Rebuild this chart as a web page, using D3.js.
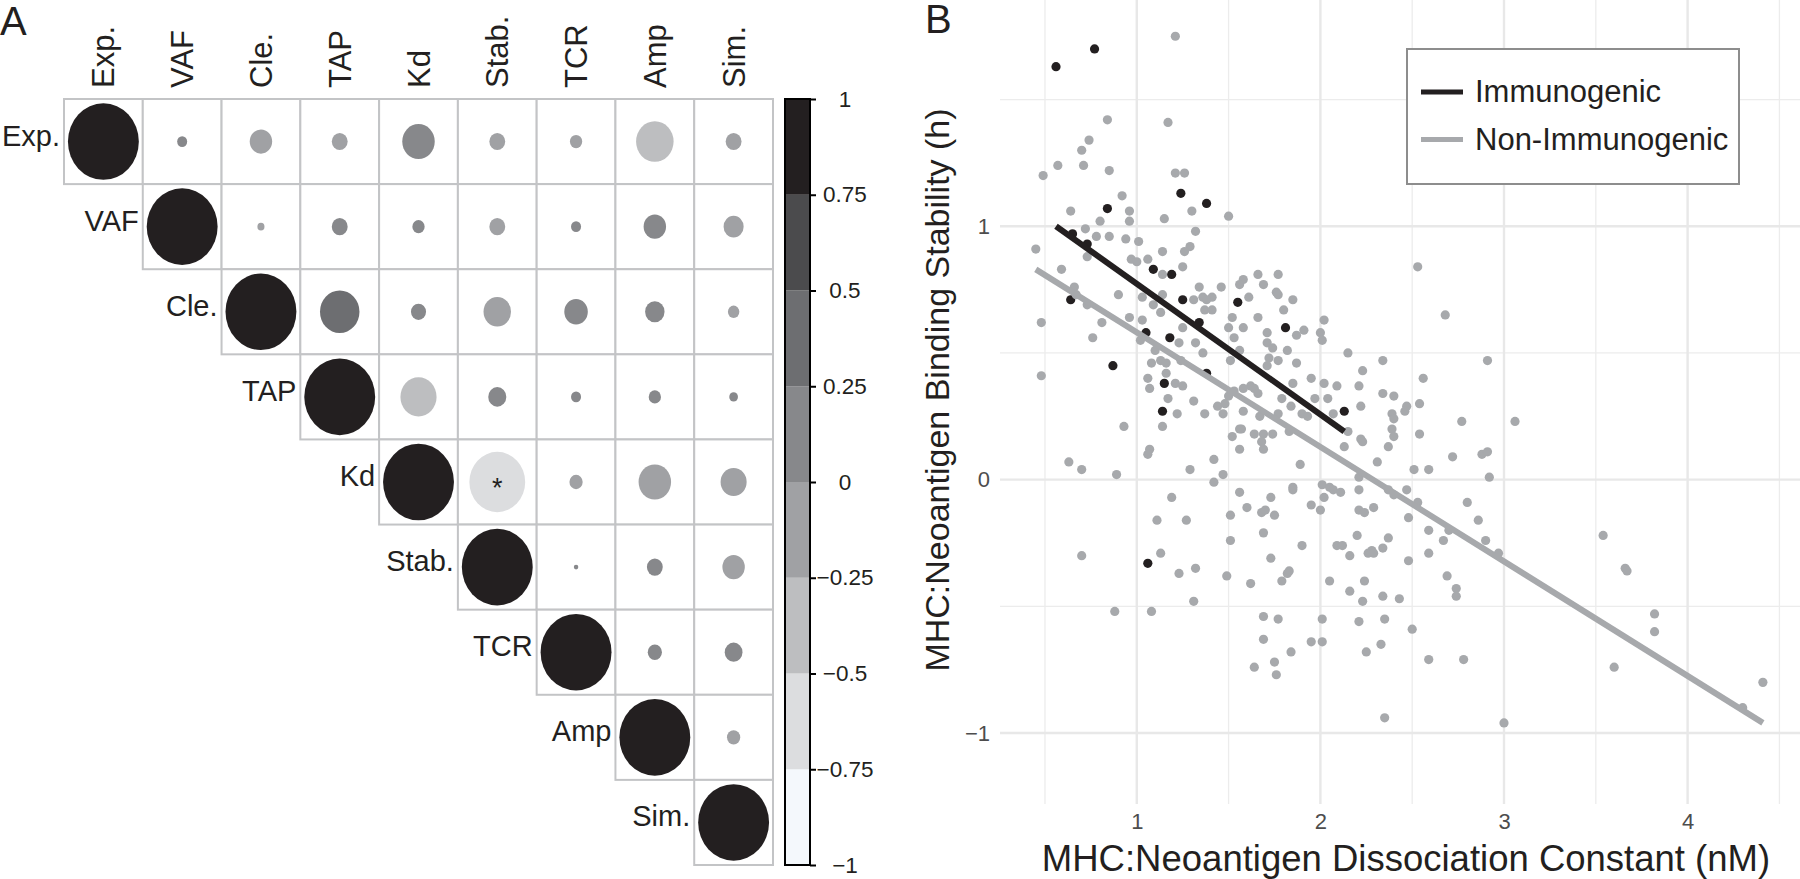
<!DOCTYPE html>
<html>
<head>
<meta charset="utf-8">
<title>Correlation matrix and MHC binding stability</title>
<script src="https://cdn.jsdelivr.net/npm/d3@7"></script>
<style>
  body { margin: 0; background: #fff; }
  svg { display: block; font-family: "Liberation Sans", Arial, Helvetica, sans-serif; }
</style>
</head>
<body>
<svg id="chart" width="1800" height="879"></svg>
<script>
// ---------- panel A data: feature correlations (upper triangle) ----------
const corrLabels = ["Exp.", "VAF", "Cle.", "TAP", "Kd", "Stab.", "TCR", "Amp", "Sim."]
const corrValues = [
  [1, 0.02, -0.10, -0.05, 0.21, -0.05, -0.03, -0.28, -0.05],
  [null, 1, -0.01, 0.05, 0.03, -0.05, 0.02, 0.10, -0.08],
  [null, null, 1, 0.31, 0.045, -0.15, 0.11, 0.075, -0.026],
  [null, null, null, 1, -0.26, 0.065, 0.02, 0.03, 0.015],
  [null, null, null, null, 1, -0.62, -0.035, -0.21, -0.135],
  [null, null, null, null, null, 1, 0.004, 0.05, -0.10],
  [null, null, null, null, null, null, 1, 0.04, 0.063],
  [null, null, null, null, null, null, null, 1, -0.035],
  [null, null, null, null, null, null, null, null, 1]
]
const starCells = [[4, 5]]   // significant pair (row, col)
const bandBreaks = [-1, -0.75, -0.5, -0.25, 0, 0.25, 0.5, 0.75, 1]
const bandColors = ["#f4f8fc", "#dcdddf", "#bdbec0", "#a0a1a4", "#87888b", "#6d6e71", "#4b4b4d", "#231f20"]

// ---------- panel B data: Kd (nM) vs stability (h) ----------
const immunogenic = [
  [0.56, 1.63], [0.77, 1.70], [0.84, 1.07], [1.24, 1.13], [1.38, 1.09], [0.65, 0.97], [0.73, 0.93],
  [0.64, 0.71], [1.09, 0.83], [1.19, 0.81], [1.25, 0.71], [1.34, 0.62], [1.55, 0.70], [1.81, 0.60],
  [1.05, 0.58], [1.18, 0.56], [0.87, 0.45], [1.15, 0.38], [1.14, 0.27], [2.13, 0.27], [1.38, 0.42],
  [1.06, -0.33]
]
const nonImmunogenic = [
  [1.21, 1.75], [1.17, 1.41], [0.84, 1.42], [0.74, 1.34], [0.70, 1.30], [0.71, 1.24], [0.57, 1.24],
  [0.49, 1.20], [0.85, 1.22], [1.21, 1.21], [1.26, 1.21], [0.92, 1.12], [1.30, 1.06], [0.64, 1.06],
  [0.96, 1.06], [0.80, 1.02], [0.96, 1.02], [1.15, 1.03], [1.50, 1.04], [0.72, 0.99], [1.32, 0.98],
  [0.78, 0.96], [0.85, 0.96], [0.94, 0.95], [1.01, 0.94], [0.45, 0.91], [1.29, 0.92], [1.26, 0.90],
  [0.73, 0.88], [1.06, 0.87], [0.97, 0.87], [1.00, 0.86], [1.14, 0.90], [1.25, 0.84], [0.59, 0.83],
  [1.14, 0.81], [1.66, 0.81], [1.77, 0.81], [1.58, 0.79], [1.56, 0.77], [1.69, 0.77], [0.66, 0.76],
  [0.67, 0.73], [1.34, 0.76], [1.46, 0.76], [0.90, 0.73], [1.14, 0.73], [1.03, 0.72], [1.31, 0.71],
  [1.36, 0.72], [1.41, 0.72], [1.38, 0.71], [1.61, 0.72], [1.76, 0.74], [1.77, 0.73], [1.85, 0.71],
  [0.73, 0.69], [1.09, 0.69], [1.13, 0.66], [1.37, 0.67], [1.41, 0.67], [1.80, 0.67], [1.52, 0.64],
  [1.66, 0.64], [0.48, 0.62], [0.81, 0.62], [0.96, 0.64], [1.03, 0.63], [2.02, 0.63], [1.25, 0.60],
  [1.50, 0.60], [1.58, 0.60], [1.91, 0.59], [2.00, 0.58], [1.71, 0.58], [0.76, 0.56], [1.02, 0.55],
  [1.23, 0.54], [1.32, 0.54], [1.53, 0.56], [2.01, 0.55], [1.87, 0.57], [1.71, 0.54], [2.15, 0.50],
  [2.34, 0.47], [1.36, 0.50], [1.56, 0.51], [1.74, 0.52], [1.72, 0.48], [1.77, 0.47], [1.87, 0.46],
  [1.82, 0.51], [1.10, 0.51], [1.24, 0.47], [1.08, 0.46], [1.13, 0.47], [1.16, 0.46], [1.51, 0.47],
  [0.48, 0.41], [1.06, 0.40], [1.16, 0.42], [1.71, 0.45], [2.23, 0.43], [1.95, 0.40], [2.02, 0.38],
  [2.09, 0.37], [2.21, 0.37], [1.85, 0.38], [1.62, 0.37], [1.64, 0.36], [1.58, 0.36], [1.07, 0.36],
  [1.21, 0.38], [1.25, 0.37], [1.53, 0.35], [1.66, 0.34], [2.34, 0.34], [2.40, 0.33], [1.50, 0.33],
  [1.17, 0.32], [1.31, 0.31], [1.79, 0.32], [2.04, 0.32], [1.97, 0.32], [1.44, 0.29], [1.48, 0.30],
  [2.22, 0.29], [1.84, 0.29], [1.58, 0.27], [1.77, 0.26], [1.90, 0.26], [1.93, 0.25], [2.07, 0.26],
  [1.22, 0.26], [1.37, 0.26], [1.47, 0.26], [1.67, 0.25], [2.39, 0.26], [2.40, 0.24], [0.93, 0.21],
  [1.14, 0.21], [1.52, 0.17], [1.56, 0.20], [1.57, 0.20], [1.64, 0.18], [1.69, 0.18], [1.74, 0.18],
  [1.83, 0.19], [2.15, 0.19], [2.22, 0.16], [2.39, 0.20], [2.40, 0.17],
  [2.53, 0.84], [2.68, 0.65], [2.91, 0.47], [2.56, 0.40], [2.54, 0.30], [2.47, 0.29], [2.46, 0.27],
  [2.77, 0.23], [3.06, 0.23], [2.54, 0.18],
  [0.63, 0.07], [0.70, 0.04], [0.89, 0.02], [1.07, 0.12], [1.06, 0.10], [1.29, 0.04], [1.42, 0.08],
  [1.47, 0.02], [1.42, -0.01], [1.56, 0.12], [1.69, 0.12], [1.68, 0.15], [1.89, 0.06], [2.13, 0.13],
  [2.23, 0.15], [2.31, 0.07], [2.37, 0.13], [2.21, 0.01], [2.01, -0.02], [1.85, -0.03], [1.85, -0.04],
  [2.05, -0.03], [2.07, -0.04], [2.11, -0.05], [2.21, -0.04], [2.37, -0.04], [2.40, -0.06], [2.02, -0.07],
  [1.19, -0.07], [1.56, -0.05], [1.73, -0.07], [1.95, -0.10], [2.00, -0.12], [2.21, -0.12], [2.24, -0.13],
  [2.29, -0.11], [1.60, -0.11], [1.68, -0.13], [1.70, -0.12], [1.75, -0.14], [1.51, -0.14], [1.11, -0.16],
  [1.27, -0.16], [1.69, -0.21], [1.51, -0.24], [1.90, -0.26], [2.20, -0.22], [2.09, -0.26], [2.12, -0.26],
  [2.16, -0.30], [2.26, -0.29], [2.28, -0.28], [2.29, -0.29], [2.34, -0.27], [2.37, -0.23], [0.70, -0.30],
  [1.13, -0.29], [1.32, -0.35], [1.23, -0.37], [1.73, -0.31], [1.49, -0.38], [1.62, -0.41], [1.82, -0.37],
  [1.83, -0.36], [1.79, -0.40], [2.05, -0.40], [2.24, -0.40], [2.16, -0.44], [2.23, -0.48], [2.34, -0.46],
  [2.43, -0.47], [1.31, -0.48], [0.88, -0.52], [1.08, -0.52], [1.69, -0.54], [1.77, -0.55], [2.01, -0.55],
  [2.21, -0.56], [2.35, -0.55], [1.69, -0.63], [1.95, -0.64], [2.01, -0.64], [1.84, -0.68], [2.25, -0.68],
  [2.33, -0.65], [1.64, -0.74], [1.75, -0.72], [1.76, -0.77], [2.35, -0.94],
  [2.72, 0.09], [2.88, 0.10], [2.91, 0.11], [2.51, 0.04], [2.59, 0.04], [2.92, 0.01], [2.47, -0.04],
  [2.53, -0.09], [2.80, -0.09], [2.48, -0.15], [2.86, -0.16], [2.59, -0.20], [2.70, -0.20], [2.67, -0.24],
  [2.90, -0.24], [2.97, -0.29], [2.59, -0.29], [2.48, -0.32], [2.69, -0.38], [2.74, -0.43], [2.74, -0.46],
  [3.54, -0.22], [3.66, -0.35], [3.67, -0.36], [3.82, -0.53], [3.82, -0.60], [2.50, -0.59], [2.59, -0.71],
  [2.78, -0.71], [3.60, -0.74], [4.41, -0.80], [4.30, -0.90], [3.00, -0.96]
]
// fitted lines, end points
const immunoFit = [[0.56, 1.00], [2.13, 0.19]]
const nonImmunoFit = [[0.45, 0.83], [4.41, -0.96]]
const xTicksB = [1, 2, 3, 4]
const xMinorB = [0.5, 1.5, 2.5, 3.5, 4.5]
const yTicksB = [-1, 0, 1]
const yMinorB = [-0.5, 0.5, 1.5]
const seriesNames = ["Immunogenic", "Non-Immunogenic"]
const seriesColors = ["#231f20", "#a7a9ac"]

const ink = "#231f20"
const svg = d3.select("#chart")
svg.append("rect").attr("width", 1800).attr("height", 879).attr("fill", "#fff")

// =============== Panel A ===============
const n = corrLabels.length
const xA = d3.scaleBand().domain(d3.range(n)).range([64, 773])
const yA = d3.scaleBand().domain(d3.range(n)).range([99, 865])
const rA = d3.scaleSqrt().domain([0, 1]).range([0, 0.45])
const colorA = d3.scaleQuantize().domain([-1, 1]).range(bandColors)
const bw = xA.bandwidth(), bh = yA.bandwidth()

var cells = []
corrValues.forEach(function (row, i) {
  row.forEach(function (v, j) { if (v !== null) cells.push({ i: i, j: j, v: v }) })
})

const gA = svg.append("g")
gA.selectAll("rect.cell").data(cells).join("rect")
  .attr("class", "cell")
  .attr("x", d => xA(d.j)).attr("y", d => yA(d.i))
  .attr("width", bw).attr("height", bh)
  .attr("fill", "#fff").attr("stroke", "#c3c4c6").attr("stroke-width", 2)

gA.selectAll("ellipse").data(cells).join("ellipse")
  .attr("cx", d => xA(d.j) + bw / 2)
  .attr("cy", d => yA(d.i) + bh / 2)
  .attr("rx", d => rA(Math.abs(d.v)) * bw)
  .attr("ry", d => rA(Math.abs(d.v)) * bh)
  .attr("fill", d => colorA(d.v))

gA.selectAll("text.star").data(starCells).join("text")
  .attr("class", "star")
  .attr("x", d => xA(d[1]) + bw / 2)
  .attr("y", d => yA(d[0]) + bh / 2 + 15)
  .attr("text-anchor", "middle").attr("font-size", 27).attr("fill", ink)
  .text("*")

// column labels (rotated)
gA.selectAll("text.col").data(corrLabels).join("text")
  .attr("class", "col")
  .attr("transform", (d, j) => `translate(${xA(j) + bw / 2 + 11},88) rotate(-90)`)
  .attr("font-size", 31).attr("fill", ink)
  .text(d => d)

// row labels next to the diagonal
gA.selectAll("text.row").data(corrLabels).join("text")
  .attr("class", "row")
  .attr("x", (d, i) => xA(i) - 4)
  .attr("y", (d, i) => yA(i) + bh / 2 + 4)
  .attr("text-anchor", "end").attr("font-size", 29).attr("fill", ink)
  .text(d => d)

// colour legend
const yBar = d3.scaleLinear().domain([-1, 1]).range([865, 99])
gA.selectAll("rect.band").data(d3.range(bandColors.length)).join("rect")
  .attr("class", "band")
  .attr("x", 785).attr("width", 25)
  .attr("y", k => yBar(bandBreaks[k + 1]))
  .attr("height", k => yBar(bandBreaks[k]) - yBar(bandBreaks[k + 1]))
  .attr("fill", k => bandColors[k])
gA.append("rect").attr("x", 785).attr("y", 99).attr("width", 25).attr("height", 766)
  .attr("fill", "none").attr("stroke", "#000").attr("stroke-width", 2)

const barAxis = gA.append("g").attr("transform", "translate(810,0)")
  .call(d3.axisRight(yBar).tickValues(bandBreaks).tickSize(6)
    .tickFormat(d => (d < 0 ? "\u2212" : "") + Math.abs(d)))
barAxis.select(".domain").remove()
barAxis.selectAll("line").attr("stroke", "#000").attr("stroke-width", 2)
barAxis.selectAll("text").attr("x", 35).attr("text-anchor", "middle")
  .attr("font-size", 22.5).attr("font-family", null).attr("fill", ink)
barAxis.attr("font-family", null).attr("font-size", null)

svg.append("text").attr("x", 0).attr("y", 35).attr("font-size", 40).attr("fill", ink).text("A")

// =============== Panel B ===============
const xB = d3.scaleLinear().domain([0.255, 4.623]).range([1000, 1802])
const yB = d3.scaleLinear().domain([-1.28, 1.893]).range([804, 0])
const gB = svg.append("g")

// grid
gB.selectAll("line.vminor").data(xMinorB).join("line")
  .attr("x1", d => xB(d)).attr("x2", d => xB(d)).attr("y1", 0).attr("y2", 804)
  .attr("stroke", "#ececec").attr("stroke-width", 1.3)
gB.selectAll("line.hminor").data(yMinorB).join("line")
  .attr("y1", d => yB(d)).attr("y2", d => yB(d)).attr("x1", 1000).attr("x2", 1802)
  .attr("stroke", "#ececec").attr("stroke-width", 1.3)
gB.selectAll("line.vmajor").data(xTicksB).join("line")
  .attr("x1", d => xB(d)).attr("x2", d => xB(d)).attr("y1", 0).attr("y2", 804)
  .attr("stroke", "#e8e8e8").attr("stroke-width", 2.4)
gB.selectAll("line.hmajor").data(yTicksB).join("line")
  .attr("y1", d => yB(d)).attr("y2", d => yB(d)).attr("x1", 1000).attr("x2", 1802)
  .attr("stroke", "#e8e8e8").attr("stroke-width", 2.4)

// axes (labels only)
const fmtB = d => (d < 0 ? "\u2212" : "") + Math.abs(d)
const xAxisB = gB.append("g").attr("transform", "translate(0,804)")
  .call(d3.axisBottom(xB).tickValues(xTicksB).tickSize(0).tickPadding(9).tickFormat(fmtB))
const yAxisB = gB.append("g").attr("transform", "translate(1000,0)")
  .call(d3.axisLeft(yB).tickValues(yTicksB).tickSize(0).tickPadding(10).tickFormat(fmtB))
;[xAxisB, yAxisB].forEach(function (ax) {
  ax.select(".domain").remove()
  ax.attr("font-family", null).attr("font-size", null)
  ax.selectAll("text").attr("font-size", 22).attr("fill", "#4d4d4d")
})

// points
gB.selectAll("circle.imm").data(immunogenic).join("circle")
  .attr("class", "imm")
  .attr("cx", d => xB(d[0])).attr("cy", d => yB(d[1])).attr("r", 4.6)
  .attr("fill", seriesColors[0])
gB.selectAll("circle.non").data(nonImmunogenic).join("circle")
  .attr("class", "non")
  .attr("cx", d => xB(d[0])).attr("cy", d => yB(d[1])).attr("r", 4.6)
  .attr("fill", seriesColors[1])

// fitted lines
const lineB = d3.line().x(d => xB(d[0])).y(d => yB(d[1]))
gB.append("path").datum(nonImmunoFit).attr("d", lineB)
  .attr("stroke", seriesColors[1]).attr("stroke-width", 6).attr("fill", "none")
gB.append("path").datum(immunoFit).attr("d", lineB)
  .attr("stroke", seriesColors[0]).attr("stroke-width", 6).attr("fill", "none")

// axis titles
gB.append("text").attr("x", 1406).attr("y", 871).attr("text-anchor", "middle")
  .attr("font-size", 36.5).attr("fill", ink)
  .text("MHC:Neoantigen Dissociation Constant (nM)")
gB.append("text").attr("transform", "translate(949,390) rotate(-90)").attr("text-anchor", "middle")
  .attr("font-size", 34).attr("fill", ink)
  .text("MHC:Neoantigen Binding Stability (h)")

// legend
const leg = gB.append("g")
leg.append("rect").attr("x", 1407).attr("y", 49).attr("width", 332).attr("height", 135)
  .attr("fill", "#fff").attr("stroke", "#8d8d8d").attr("stroke-width", 2)
const legItems = leg.selectAll("g.item").data(seriesNames).join("g")
  .attr("class", "item")
  .attr("transform", (d, k) => `translate(0,${k * 47.5})`)
legItems.append("line").attr("x1", 1421).attr("x2", 1463).attr("y1", 92).attr("y2", 92)
  .attr("stroke", (d, k) => seriesColors[k]).attr("stroke-width", 5)
legItems.append("text").attr("x", 1475).attr("y", 102)
  .attr("font-size", 31).attr("fill", ink).text(d => d)

svg.append("text").attr("x", 925).attr("y", 33).attr("font-size", 40).attr("fill", ink).text("B")
</script>
</body>
</html>
